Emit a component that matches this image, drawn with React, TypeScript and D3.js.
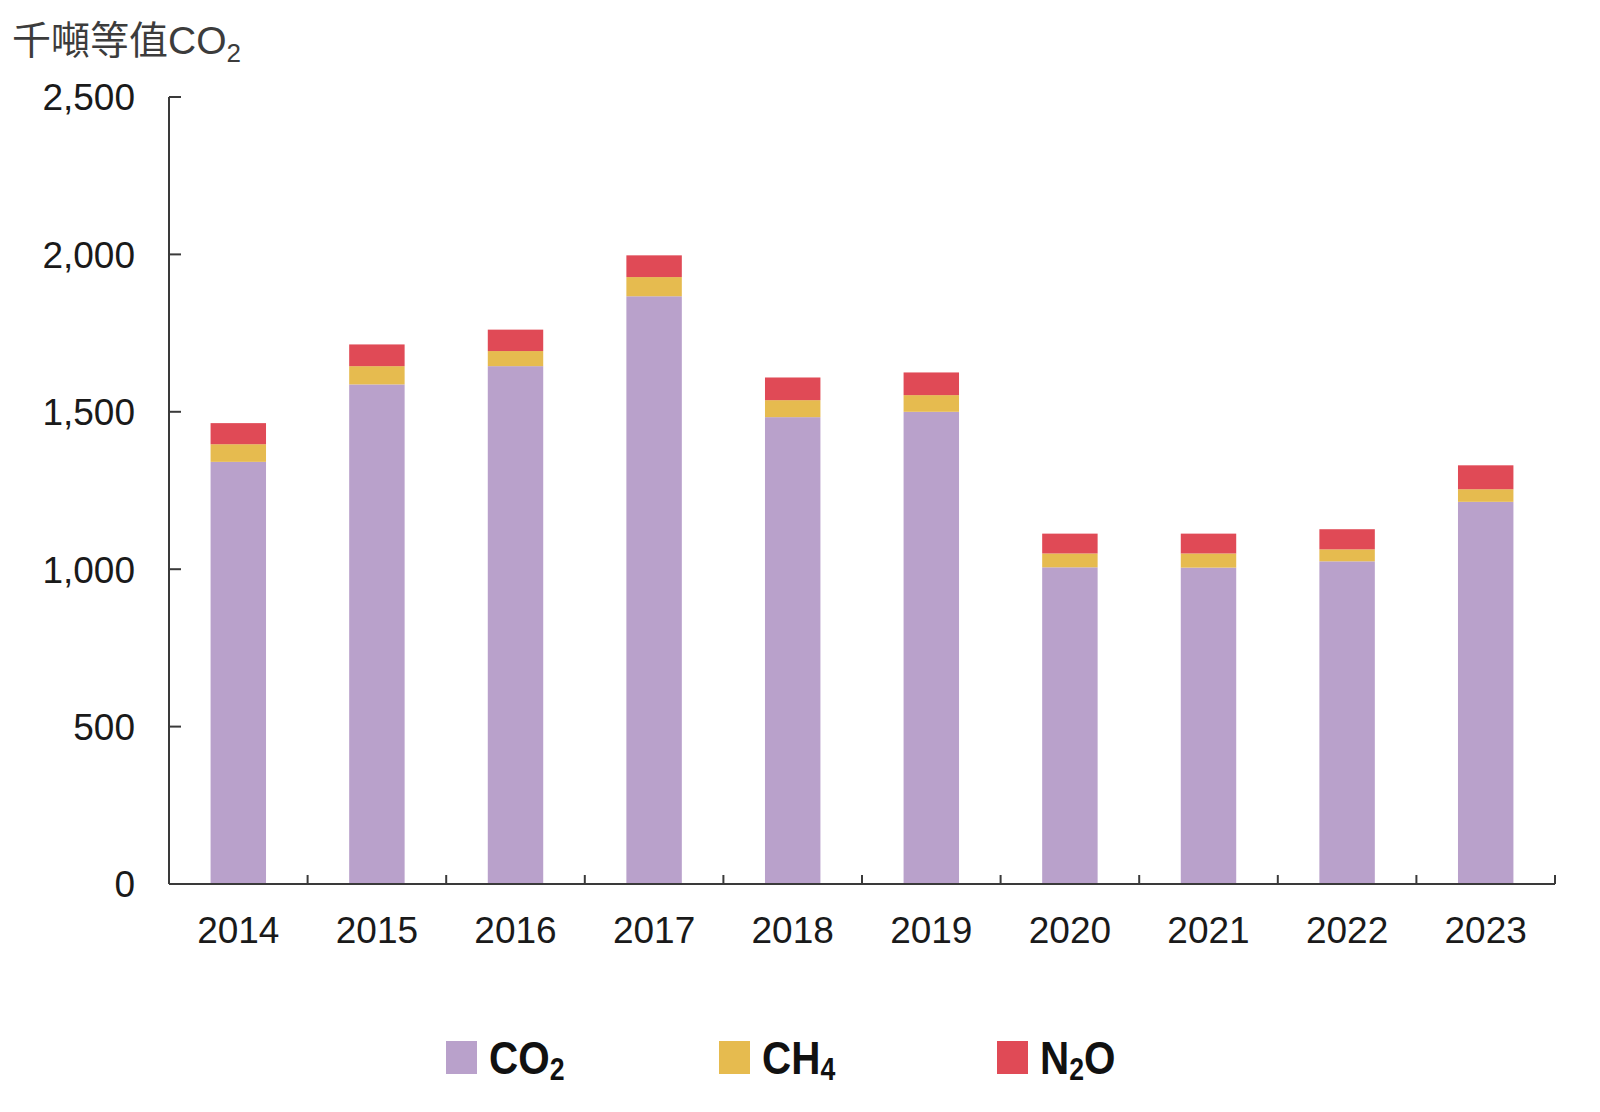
import React from "react";
import * as d3 from "d3";

// values (thousand tonnes CO2e)
const years = ["2014", "2015", "2016", "2017", "2018", "2019", "2020", "2021", "2022", "2023"];
const co2 = [1341, 1587, 1645, 1867, 1483, 1500, 1006, 1005, 1025, 1214];
const ch4 = [56, 58, 48, 61, 54, 53, 44, 45, 38, 40];
const n2o = [67, 69, 68, 69, 72, 72, 63, 63, 64, 76];
const yTicks = [0, 500, 1000, 1500, 2000, 2500];

const gases = [
  { key: "co2", label: "CO", sub: "2", color: "#b9a1cb" },
  { key: "ch4", label: "CH", sub: "4", color: "#e6bb4f" },
  { key: "n2o", label: "N", sub: "2", tail: "O", color: "#e04a56" },
];

const latin = "'Liberation Sans', Arial, 'Noto Sans CJK TC', sans-serif";
const axisColor = "#3a3a3a";

export default function App() {
  const margin = { top: 97, right: 45, bottom: 228, left: 169 };
  const width = 1600;
  const height = 1112;
  const innerW = width - margin.left - margin.right;
  const innerH = height - margin.top - margin.bottom;

  const x = d3.scaleBand<string>().domain(years).range([0, innerW]).paddingInner(0.6).paddingOuter(0.3);
  const y = d3.scaleLinear().domain([0, 2500]).range([innerH, 0]);

  const rows = years.map((yr, i) => ({ year: yr, co2: co2[i], ch4: ch4[i], n2o: n2o[i] }));
  const stacked = d3.stack<any>().keys(gases.map((g) => g.key))(rows);

  const step = x.step();
  const boundaries = d3.range(years.length + 1).map((i) => i * step);

  const legendX = [446, 719, 997];

  return (
    <svg
      width={width}
      height={height}
      style={{ position: "absolute", left: 0, top: 0, background: "#fff" }}
    >
      <text x={12} y={54} fontSize={39} fill="#3c3c3c" fontFamily={latin}>
        千噸等值CO
        <tspan fontSize={26} dy={8}>2</tspan>
      </text>

      <g transform={`translate(${margin.left},${margin.top})`}>
        {stacked.map((layer, li) => (
          <g key={layer.key} fill={gases[li].color}>
            {layer.map((d, i) => (
              <rect
                key={years[i]}
                x={x(years[i])}
                width={x.bandwidth()}
                y={y(d[1])}
                height={y(d[0]) - y(d[1])}
              />
            ))}
          </g>
        ))}

        {/* y axis */}
        <line x1={0} x2={0} y1={0} y2={innerH} stroke={axisColor} strokeWidth={2} />
        {yTicks.map((t) => (
          <g key={t} transform={`translate(0,${y(t)})`}>
            <line x1={0} x2={12} stroke={axisColor} strokeWidth={2} />
            <text
              x={-34}
              dy="0.36em"
              textAnchor="end"
              fontSize={37}
              fill="#1a1a1a"
              fontFamily={latin}
            >
              {d3.format(",")(t)}
            </text>
          </g>
        ))}

        {/* x axis */}
        <line x1={0} x2={innerW} y1={innerH} y2={innerH} stroke={axisColor} strokeWidth={2} />
        {boundaries.map((b, i) => (
          <line key={i} x1={b} x2={b} y1={innerH} y2={innerH - 9} stroke={axisColor} strokeWidth={2} />
        ))}
        {years.map((yr) => (
          <text
            key={yr}
            x={(x(yr) ?? 0) + x.bandwidth() / 2}
            y={innerH + 59}
            textAnchor="middle"
            fontSize={37}
            fill="#1a1a1a"
            fontFamily={latin}
          >
            {yr}
          </text>
        ))}
      </g>

      {/* legend */}
      {gases.map((g, i) => (
        <g key={g.key} transform={`translate(${legendX[i]},1041)`}>
          <rect width={31} height={33} fill={g.color} />
          <text
            transform="translate(43,33) scale(0.86,1)"
            fontSize={47}
            fontWeight="bold"
            fill="#111"
            fontFamily="'Liberation Sans Narrow', 'Liberation Sans', Arial, sans-serif"
          >
            {g.label}
            <tspan fontSize={31} dy={6}>{g.sub}</tspan>
            {g.tail ? <tspan fontSize={47} dy={-6}>{g.tail}</tspan> : null}
          </text>
        </g>
      ))}
    </svg>
  );
}
